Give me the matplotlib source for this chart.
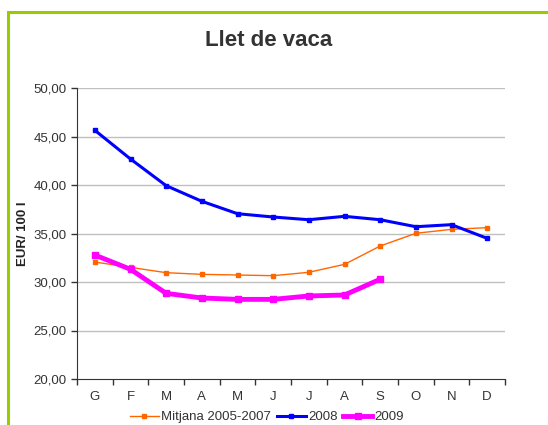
import numpy as np
import matplotlib
matplotlib.use('Agg')
from matplotlib import pyplot as plt
from matplotlib.patches import Rectangle
import matplotlib.ticker as ticker

plt.rcParams['font.family'] = ['Liberation Sans', 'DejaVu Sans']

#----------------------------------------------------------------
# Dades
#----------------------------------------------------------------
mesos = ['G', 'F', 'M', 'A', 'M', 'J', 'J', 'A', 'S', 'O', 'N', 'D']
mitjana = [32.06, 31.51, 30.96, 30.79, 30.72, 30.65, 31.00, 31.82, 33.71, 35.02, 35.43, 35.60]
any_2008 = [45.64, 42.68, 39.93, 38.32, 37.04, 36.70, 36.42, 36.77, 36.42, 35.70, 35.91, 34.50]
any_2009 = [32.78, 31.31, 28.83, 28.35, 28.21, 28.21, 28.56, 28.66, 30.28]
y_ticks = [20, 25, 30, 35, 40, 45, 50]

#----------------------------------------------------------------
fig = plt.figure(figsize=(5.48, 4.25), dpi=100)

# marc verd
rect = Rectangle((8/548, -0.2), 1.2, 1 - 12/425 + 0.2, transform=fig.transFigure,
                 fill=False, edgecolor='#99cc00', linewidth=2.2, zorder=0)
fig.patches.append(rect)

ax = fig.add_axes([77/548, 1 - 379/425, 428/548, 291/425])

x = np.arange(len(mesos))
ax.plot(x, mitjana, color='#ff6600', lw=1.0, marker='s', ms=2.6, label='Mitjana 2005-2007', zorder=3)
ax.plot(x, any_2008, color='#0000ff', lw=2.2, marker='s', ms=2.6, label='2008', zorder=4)
ax.plot(x[:len(any_2009)], any_2009, color='#ff00ff', lw=3.5, marker='s', ms=4, label='2009', zorder=5)

ax.set_xlim(-0.5, len(mesos) - 0.5)
ax.set_ylim(20, 50)
ax.set_yticks(y_ticks)
ax.yaxis.set_major_formatter(ticker.FuncFormatter(lambda v, p: ('%.2f' % v).replace('.', ',')))
for yv in y_ticks[1:]:
    ax.axhline(yv, color='#c0c0c0', lw=1.0, zorder=1)

ax.set_xticks(np.arange(-0.5, len(mesos)), minor=False)
ax.set_xticklabels([])
ax.set_xticks(x, minor=True)
ax.set_xticklabels(mesos, minor=True)
ax.tick_params(axis='x', which='major', direction='out', length=4, width=1, color='#333333')
ax.tick_params(axis='x', which='minor', length=0, pad=9, labelsize=9.5, labelcolor='#333333')
ax.tick_params(axis='y', direction='out', length=4, width=1, color='#333333', labelsize=9.5, labelcolor='#333333')

for s in ['top', 'right']:
    ax.spines[s].set_visible(False)
ax.spines['left'].set_color('#333333')
ax.spines['bottom'].set_color('#333333')

ax.set_ylabel('EUR/ 100 l', fontsize=9.5, fontweight='bold', color='#222222', labelpad=3)

fig.text(269/548, 1 - 40/425, 'Llet de vaca', ha='center', va='center',
         fontsize=16, fontweight='bold', color='#333333')

ax.legend(loc='center', bbox_to_anchor=(267/548, 8/425), bbox_transform=fig.transFigure,
          ncol=3, frameon=False, fontsize=9.5, handlelength=2.2, handletextpad=0.2,
          columnspacing=0.4, labelcolor='#333333')

plt.savefig('out.png', dpi=100)
